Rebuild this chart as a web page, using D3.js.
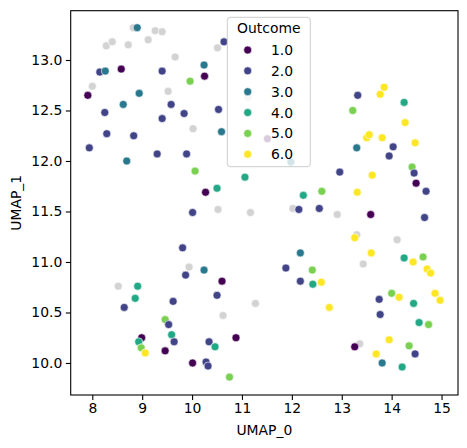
<!DOCTYPE html>
<html><head><meta charset="utf-8">
<script src="https://cdn.jsdelivr.net/npm/d3@7"></script>
<style>body{margin:0;background:#fff;} text{font-family:"DejaVu Sans",sans-serif;}</style>
</head><body>
<svg id="c" width="467" height="448"></svg>
<script>
// ---- data ----
const grayX = [8.82,9.26,9.40,8.28,8.40,8.72,9.12,10.51,9.66,8.00,9.52,10.02,11.12,
  10.52,11.17,9.94,8.52,11.27,10.62,12.02,12.91,13.30,14.11,13.43,13.36];
const grayY = [13.32,13.29,13.28,13.14,13.18,13.15,13.20,13.12,13.03,12.74,12.69,12.32,12.63,
  11.52,11.49,10.95,10.76,10.59,10.47,11.53,11.47,11.27,11.22,10.98,10.19];

const ptX = [8.90,10.64,10.24,8.15,8.26,8.58,9.40,9.96,10.25,7.91,8.94,8.62,9.58,8.25,9.40,9.84,10.53,
  8.29,8.83,10.59,7.94,8.69,9.30,9.89,10.06,11.06,10.50,10.27,11.51,11.98,
  10.01,9.81,9.87,10.24,10.60,10.50,8.91,8.86,8.64,9.62,9.46,9.53,9.59,9.64,8.99,8.93,8.98,9.06,9.46,
  10.01,10.34,10.46,10.88,10.28,10.32,10.75,
  13.32,13.77,13.85,14.25,13.22,14.27,13.50,13.55,13.81,14.03,13.95,14.47,13.30,14.41,14.45,14.49,14.69,
  12.96,13.61,13.31,12.23,12.60,
  12.14,12.55,13.58,14.66,13.26,12.17,13.59,14.25,14.43,14.63,14.71,14.78,11.88,12.41,12.17,12.42,12.59,
  12.75,13.75,14.00,14.15,14.44,14.87,14.97,13.77,14.55,14.74,13.26,13.95,14.35,14.47,13.69,13.81,14.21];
const ptY = [13.32,13.18,12.95,12.88,12.89,12.91,12.89,12.79,12.84,12.65,12.67,12.56,12.56,12.48,12.42,12.47,12.51,
  12.27,12.25,12.29,12.13,12.00,12.07,12.07,11.90,11.84,11.73,11.69,12.22,11.99,
  11.49,11.14,10.87,10.92,10.81,10.67,10.76,10.64,10.55,10.61,10.43,10.38,10.28,10.21,10.25,10.21,10.15,10.10,10.12,
  10.00,10.21,10.16,10.25,10.01,9.97,9.86,
  12.65,12.66,12.73,12.58,12.50,12.38,12.23,12.26,12.23,12.14,12.05,12.18,12.13,11.94,11.88,11.78,11.70,
  11.89,11.86,11.69,11.66,11.70,
  11.52,11.53,11.47,11.44,11.24,11.09,11.09,11.04,11.00,11.05,10.93,10.89,10.94,10.92,10.81,10.78,10.80,
  10.55,10.63,10.69,10.65,10.59,10.69,10.62,10.48,10.40,10.38,10.16,10.23,10.17,10.09,10.09,10.00,9.96];
const ptOutcome = [3,2,3,2,3,1,2,5,1,1,3,3,2,2,2,2,2,
  2,2,3,2,3,2,2,5,4,4,1,1,3,
  2,2,2,3,1,2,4,4,2,2,5,2,4,2,1,4,5,6,1,
  1,2,4,1,2,2,5,
  2,6,6,4,5,6,6,6,6,2,2,6,3,5,2,1,2,
  2,6,6,4,5,
  2,2,1,2,6,3,6,4,6,5,6,6,2,5,2,4,6,
  6,2,5,6,4,6,6,2,4,5,1,6,5,2,6,3,4];

const legendLevels = [1,2,3,4,5,6];
const legendLabels = ["1.0","2.0","3.0","4.0","5.0","6.0"];
const xTicks = [8,9,10,11,12,13,14,15];
const yTicks = [10.0,10.5,11.0,11.5,12.0,12.5,13.0];
const xDomain = [7.567, 15.33];
const yDomain = [9.683, 13.488];

// ---- chart ----
const svg = d3.select("#c");
const L = 70.7, R = 458, T = 10.7, B = 395;
const x = d3.scaleLinear().domain(xDomain).range([L, R]);
const y = d3.scaleLinear().domain(yDomain).range([B, T]);
const color = d3.scaleSequential(d3.interpolateViridis).domain([1, 6]);

const gPts = svg.append("g");
gPts.selectAll("circle.g").data(grayX.map((v,i)=>({x:v,y:grayY[i]}))).enter()
  .append("circle").attr("cx", d=>x(d.x)).attr("cy", d=>y(d.y)).attr("r", 4)
  .attr("fill", "#d3d3d3").attr("stroke", "#fff").attr("stroke-width", 0.6);
gPts.selectAll("circle.p").data(ptX.map((v,i)=>({x:v,y:ptY[i],o:ptOutcome[i]}))).enter()
  .append("circle").attr("cx", d=>x(d.x)).attr("cy", d=>y(d.y)).attr("r", 4)
  .attr("fill", d=>color(d.o)).attr("stroke", "#fff").attr("stroke-width", 0.6);

// axes
const xa = svg.append("g").attr("transform", `translate(0,${B})`)
  .call(d3.axisBottom(x).tickValues(xTicks).tickFormat(d3.format("d")).tickSize(4.9).tickPadding(3.5));
const ya = svg.append("g").attr("transform", `translate(${L},0)`)
  .call(d3.axisLeft(y).tickValues(yTicks).tickFormat(d3.format(".1f")).tickSize(4.9).tickPadding(3.5));
[xa, ya].forEach(a => {
  a.select(".domain").remove();
  a.selectAll(".tick line").attr("stroke", "#000").attr("stroke-width", 1.1);
  a.selectAll(".tick text").attr("font-size", "13.9px").attr("fill", "#000")
    .attr("font-family", "DejaVu Sans");
});
svg.append("rect").attr("x", L).attr("y", T).attr("width", R-L).attr("height", B-T)
  .attr("fill", "none").attr("stroke", "#000").attr("stroke-width", 1.1);

svg.append("text").attr("x", (L+R)/2).attr("y", 435).attr("text-anchor", "middle")
  .attr("font-size", "13.9px").text("UMAP_0");
svg.append("text").attr("transform", `translate(21,${(T+B)/2}) rotate(-90)`)
  .attr("text-anchor", "middle").attr("font-size", "13.9px").text("UMAP_1");

// legend
const lg = svg.append("g");
lg.append("rect").attr("x", 227.3).attr("y", 17.3).attr("width", 83).attr("height", 149.4)
  .attr("rx", 3).attr("fill", "#fff").attr("fill-opacity", 0.8)
  .attr("stroke", "#cccccc").attr("stroke-width", 1);
lg.append("text").attr("x", 268.8).attr("y", 33).attr("text-anchor", "middle")
  .attr("font-size", "13.9px").text("Outcome");
legendLevels.forEach((lv, i) => {
  const cy = 50 + i * 20.85;
  lg.append("circle").attr("cx", 247.7).attr("cy", cy).attr("r", 4)
    .attr("fill", color(lv)).attr("stroke", "#fff").attr("stroke-width", 0.6);
  lg.append("text").attr("x", 293).attr("y", cy + 5).attr("text-anchor", "end")
    .attr("font-size", "13.9px").text(legendLabels[i]);
});
</script>
</body></html>
